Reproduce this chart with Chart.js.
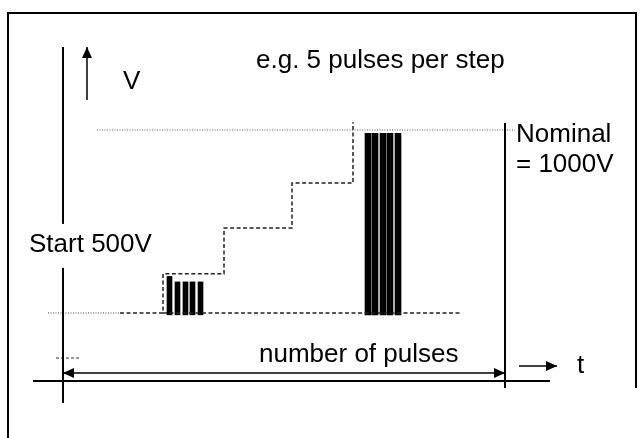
<!DOCTYPE html>
<html>
<head>
<meta charset="utf-8">
<script src="https://cdn.jsdelivr.net/npm/chart.js@4.4.1/dist/chart.umd.min.js"></script>
<style>
  html, body { margin: 0; padding: 0; background: #fff; }
  #wrap { width: 644px; height: 438px; position: relative; }
</style>
</head>
<body>
<div id="wrap"><canvas id="chart"></canvas></div>
<script>
// Schematic: voltage ramp in steps, t in arbitrary units (0 = V axis), V in volts
const START_V = 500;
const NOMINAL_V = 1000;

// staircase (dashed) envelope
const stairT = [57, 100, 100, 161, 161, 229, 229, 290, 290];
const stairV = [500, 500, 607, 607, 732, 732, 855, 855, 1022];

// pulses at the start level and at nominal
const smallPulseT = [106.5, 114.5, 122.5, 129.5, 137.5];
const smallPulseTop = [600, 585, 585, 585, 585];
const bigPulseT = [305, 312, 320, 327, 335];
const bigPulseTop = [991, 991, 991, 991, 991];
const PULSE_BASE = 495;

// labels
const labels = ["V", "e.g. 5 pulses per step", "Nominal", "= 1000V", "Start 500V", "number of pulses", "t"];

const FONT = '26px "Liberation Sans", Arial, sans-serif';

function pts(ts, vs) { return ts.map((t, i) => ({ x: t, y: vs[i] })); }

function lineDs(data, extra) {
  return Object.assign({
    type: "line", data, showLine: true, pointRadius: 0, borderColor: "#000",
    borderWidth: 2, fill: false, tension: 0, borderCapStyle: "butt",
  }, extra || {});
}

const datasets = [
  // axes
  lineDs(pts([0, 0], [254, 1227])),
  lineDs(pts([-30, 487], [314, 314])),
  // end line at nominal
  lineDs(pts([442, 442], [295, 1019])),
  // start / nominal reference lines
  lineDs(pts([-15, 57], [START_V, START_V]), { borderWidth: 1, borderDash: [1, 1.5], borderColor: "#444" }),
  lineDs(pts([100, 397], [START_V, START_V]), { borderWidth: 1.5, borderDash: [4, 2.5], borderColor: "#222" }),
  lineDs(pts([34, 452], [NOMINAL_V, NOMINAL_V]), { borderWidth: 1, borderDash: [1, 1.5], borderColor: "#555" }),
  // staircase
  lineDs(pts(stairT, stairV), { borderWidth: 1.5, borderDash: [4, 2.5], borderColor: "#222" }),
  // small dash near origin
  lineDs(pts([-7, 17], [377, 377]), { borderWidth: 1, borderDash: [3, 2], borderColor: "#333" }),
  // arrows
  lineDs(pts([24, 24], [1082, 1227]), { borderWidth: 1.5, arrowEnd: true }),
  lineDs(pts([0, 442], [336, 336]), { borderWidth: 1.5, arrowEnd: true, arrowStart: true }),
  lineDs(pts([456, 494], [355, 355]), { borderWidth: 1.5, arrowEnd: true }),
  // pulses
  {
    type: "bar", grouped: false, barThickness: 5, backgroundColor: "#000", borderWidth: 0,
    data: smallPulseT.map((t, i) => ({ x: t, y: [PULSE_BASE, smallPulseTop[i]] })),
  },
  {
    type: "bar", grouped: false, barThickness: 6, backgroundColor: "#000", borderWidth: 0,
    data: bigPulseT.map((t, i) => ({ x: t, y: [PULSE_BASE, bigPulseTop[i]] })),
  },
];

// arrowheads for datasets flagged arrowStart / arrowEnd
const arrowHeads = {
  id: "arrowHeads",
  afterDatasetsDraw(chart) {
    const ctx = chart.ctx;
    chart.data.datasets.forEach((ds, i) => {
      if (!ds.arrowEnd && !ds.arrowStart) return;
      const el = chart.getDatasetMeta(i).data;
      const head = (tip, from) => {
        const a = Math.atan2(tip.y - from.y, tip.x - from.x);
        const L = 11, W = 5;
        ctx.beginPath();
        ctx.moveTo(tip.x, tip.y);
        ctx.lineTo(tip.x - L * Math.cos(a) + W * Math.sin(a), tip.y - L * Math.sin(a) - W * Math.cos(a));
        ctx.lineTo(tip.x - L * Math.cos(a) - W * Math.sin(a), tip.y - L * Math.sin(a) + W * Math.cos(a));
        ctx.closePath();
        ctx.fillStyle = "#000";
        ctx.fill();
      };
      ctx.save();
      if (ds.arrowEnd) head(el[el.length - 1], el[el.length - 2]);
      if (ds.arrowStart) head(el[0], el[1]);
      ctx.restore();
    });
  },
};

// frame + text labels
const annotate = {
  id: "annotate",
  beforeDraw(chart) {
    const ctx = chart.ctx;
    ctx.save();
    ctx.fillStyle = "#fff";
    ctx.fillRect(0, 0, chart.width, chart.height);
    ctx.strokeStyle = "#000";
    ctx.lineWidth = 2;
    ctx.beginPath();
    ctx.moveTo(8, chart.height);
    ctx.lineTo(8, 13);
    ctx.lineTo(636, 13);
    ctx.lineTo(636, 388);
    ctx.stroke();
    ctx.restore();
  },
  afterDraw(chart) {
    const { ctx, scales: { x, y } } = chart;
    const put = (txt, t, v, align, base, bg) => {
      ctx.font = FONT;
      ctx.textAlign = align;
      ctx.textBaseline = base;
      const px = x.getPixelForValue(t), py = y.getPixelForValue(v);
      if (bg) {
        const w = ctx.measureText(txt).width;
        ctx.fillStyle = "#fff";
        ctx.fillRect(px - 4, py - 28, w + 8, 44);
      }
      ctx.fillStyle = "#000";
      ctx.fillText(txt, px, py);
    };
    ctx.save();
    put(labels[0], 60, 1131, "left", "middle");
    put(labels[1], 193, 1169, "left", "alphabetic");
    put(labels[2], 453, 968, "left", "alphabetic");
    put(labels[3], 453, 886, "left", "alphabetic");
    put(labels[4], -34, 667, "left", "alphabetic", true);
    put(labels[5], 196, 366, "left", "alphabetic");
    put(labels[6], 514, 355, "left", "middle");
    ctx.restore();
  },
};

new Chart(document.getElementById("chart"), {
  type: "scatter",
  data: { datasets },
  options: {
    responsive: true, maintainAspectRatio: false, animation: false,
    layout: { padding: 0 },
    plugins: { legend: { display: false }, tooltip: { enabled: false } },
    scales: {
      x: { type: "linear", display: false, offset: false, min: -63, max: 581 },
      y: { type: "linear", display: false, min: 500 - 125 * 500 / 183, max: 500 + 313 * 500 / 183 },
    },
  },
  plugins: [annotate, arrowHeads],
});
</script>
</body>
</html>
